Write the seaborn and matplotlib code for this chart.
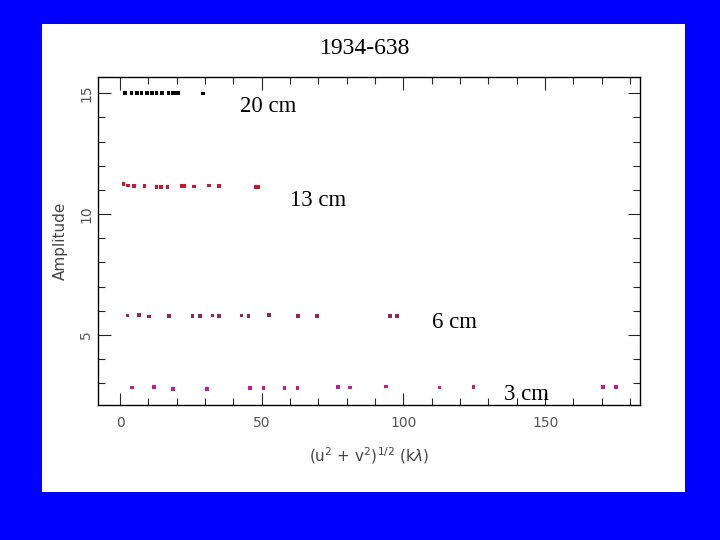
import matplotlib
matplotlib.use("Agg")
import matplotlib.pyplot as plt
import matplotlib.patches as patches
from matplotlib.ticker import MultipleLocator
import pandas as pd
import seaborn as sns

# valores
uv_20 = [1.8, 4.1, 5.9, 7.6, 9.4, 11.2, 12.9, 14.7, 17.1, 18.8, 20.0, 20.6, 29.2]
amp_20 = [15.0, 15.0, 15.0, 15.0, 15.0, 15.0, 15.0, 15.0, 15.0, 15.0, 15.0, 15.0, 14.98]

uv_13 = [1.2, 2.9, 5.0, 8.6, 12.9, 14.5, 16.8, 21.8, 22.7, 26.1, 31.4, 34.9, 48.0, 48.8]
amp_13 = [11.25, 11.18, 11.15, 11.15, 11.13, 11.13, 11.13, 11.15, 11.16, 11.14, 11.18, 11.17, 11.12, 11.12]

uv_6 = [2.6, 6.8, 10.3, 17.3, 25.6, 28.2, 32.6, 35.0, 42.9, 45.3, 52.6, 62.9, 69.6, 95.3, 97.8]
amp_6 = [5.8, 5.82, 5.76, 5.78, 5.78, 5.77, 5.8, 5.78, 5.8, 5.78, 5.82, 5.78, 5.77, 5.78, 5.77]

uv_3 = [4.3, 12.1, 18.8, 30.7, 45.9, 50.6, 58.0, 62.6, 76.9, 81.2, 93.9, 112.7, 124.7, 170.5, 175.0]
amp_3 = [2.82, 2.84, 2.76, 2.76, 2.8, 2.79, 2.8, 2.8, 2.84, 2.82, 2.86, 2.82, 2.84, 2.84, 2.84]

bandas = ["20 cm", "13 cm", "6 cm", "3 cm"]
cores = ["#000000", "#d0142c", "#962454", "#c8189c"]

df = pd.concat([
    pd.DataFrame({"uv": uv_20, "amp": amp_20, "banda": "20 cm"}),
    pd.DataFrame({"uv": uv_13, "amp": amp_13, "banda": "13 cm"}),
    pd.DataFrame({"uv": uv_6, "amp": amp_6, "banda": "6 cm"}),
    pd.DataFrame({"uv": uv_3, "amp": amp_3, "banda": "3 cm"}),
])

sns.set_style("ticks")
plt.rcParams['font.family'] = ['DejaVu Sans']

fig = plt.figure(figsize=(7.2, 5.4), dpi=100)
fig.patch.set_facecolor("#0000ff")
fig.patches.append(patches.Rectangle((0.0583, 0.0889), 0.893, 0.867,
                                     transform=fig.transFigure, facecolor="white",
                                     edgecolor="none", zorder=-5))

ax = fig.add_axes([0.136, 0.25, 0.753, 0.607])
ax.set_facecolor("white")
sns.scatterplot(data=df, x="uv", y="amp", hue="banda", hue_order=bandas,
                palette=dict(zip(bandas, cores)), marker="s", s=7,
                linewidth=0, legend=False, ax=ax)

ax.set_xlim(-7.8, 183.5)
ax.set_ylim(2.1, 15.66)
ax.xaxis.set_major_locator(MultipleLocator(50))
ax.xaxis.set_minor_locator(MultipleLocator(10))
ax.yaxis.set_major_locator(MultipleLocator(5))
ax.yaxis.set_minor_locator(MultipleLocator(1))
ax.tick_params(which="both", direction="in", top=True, right=True,
               labelsize=10, labelcolor="#555555")
ax.tick_params(axis="x", which="major", pad=8)
ax.tick_params(which="major", length=9, width=0.8)
ax.tick_params(which="minor", length=5, width=0.8)
for lab in ax.get_yticklabels():
    lab.set_rotation(90)
    lab.set_va("center")
for sp in ax.spines.values():
    sp.set_linewidth(1.0)
    sp.set_color("black")

ax.set_xlabel(r"(u$^2$ + v$^2$)$^{1/2}$ (k$\lambda$)", fontsize=11, color="#444444", labelpad=11)
ax.set_ylabel("Amplitude", fontsize=11, color="#444444", labelpad=8)

serif = ['Liberation Serif', 'DejaVu Serif']
fig.text(0.507, 0.911, "1934-638", ha="center", va="center", fontsize=17,
         family=serif, color="black")
posicoes = [(42.5, 14.45), (60.0, 10.58), (110.0, 5.5), (135.5, 2.52)]
for nome, (px, py) in zip(bandas, posicoes):
    ax.text(px, py, nome, ha="left", va="center", fontsize=16.5, family=serif, color="black")

fig.savefig("out.png", dpi=100, facecolor=fig.get_facecolor())
